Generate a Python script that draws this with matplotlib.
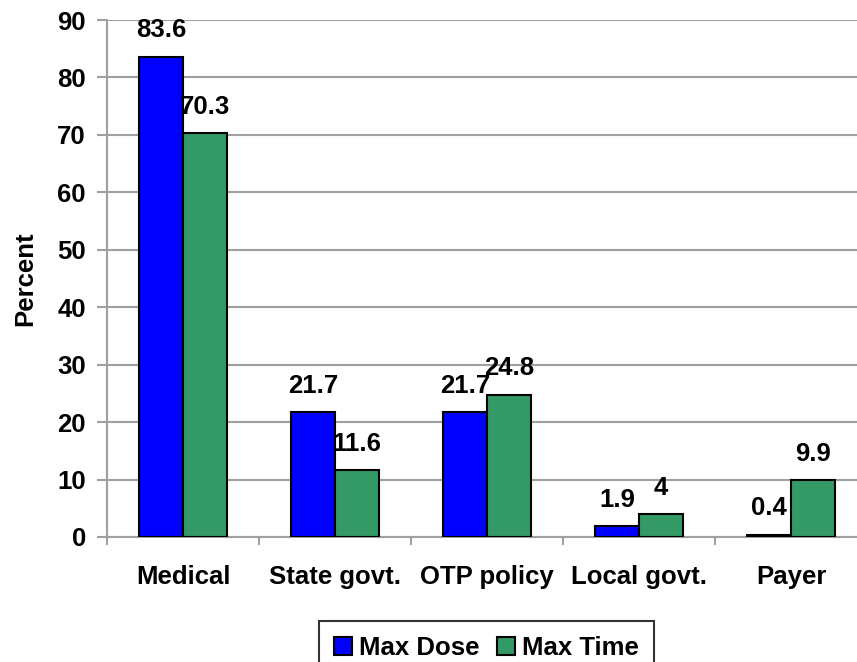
"""Bar chart: who sets max dose / max time limits (percent)."""

import matplotlib

matplotlib.use("Agg")

import matplotlib.pyplot as plt
import numpy as np

CATEGORIES = ["Medical", "State govt.", "OTP policy", "Local govt.", "Payer"]
MAX_DOSE = [83.6, 21.7, 21.7, 1.9, 0.4]
MAX_TIME = [70.3, 11.6, 24.8, 4, 9.9]
DOSE_LABELS = ["83.6", "21.7", "21.7", "1.9", "0.4"]
TIME_LABELS = ["70.3", "11.6", "24.8", "4", "9.9"]
Y_TICKS = list(range(0, 91, 10))

BLUE = "#0000FF"
GREEN = "#339966"
GREY = "#a0a0a0"
FS = 18.5

plt.rcParams["font.family"] = ["Liberation Sans", "DejaVu Sans"]
plt.rcParams["font.weight"] = "bold"

fig = plt.figure(figsize=(8.57, 6.62), dpi=100)
ax = fig.add_axes([107 / 857, 125 / 662, 760 / 857, 517 / 662])

x = np.arange(len(CATEGORIES))
width = 0.29
bars_dose = ax.bar(x - width / 2, MAX_DOSE, width, color=BLUE, edgecolor="black",
                   linewidth=1.5, label="Max Dose", zorder=3)
bars_time = ax.bar(x + width / 2, MAX_TIME, width, color=GREEN, edgecolor="black",
                   linewidth=1.5, label="Max Time", zorder=3)

for bars, labels in ((bars_dose, DOSE_LABELS), (bars_time, TIME_LABELS)):
    for bar, text in zip(bars, labels):
        ax.annotate(text, (bar.get_x() + bar.get_width() / 2, bar.get_height()),
                    xytext=(0, 14), textcoords="offset points",
                    ha="center", va="baseline", fontsize=FS, fontweight="bold")

ax.set_xlim(-0.5, len(CATEGORIES) - 0.5)
ax.set_ylim(0, 90)
ax.set_yticks(Y_TICKS)
ax.set_xticks(x)
ax.set_xticklabels(CATEGORIES)
ax.set_xticks(np.arange(len(CATEGORIES) + 1) - 0.5, minor=True)

ax.tick_params(axis="y", length=7.2, width=1.5, color=GREY, pad=8, labelsize=FS)
ax.tick_params(axis="x", which="major", length=0, pad=20, labelsize=FS)
ax.tick_params(axis="x", which="minor", length=6, width=1.5, color=GREY)

ax.grid(axis="y", color=GREY, linewidth=1.5, zorder=0)
ax.set_axisbelow(True)
for side in ("top", "right"):
    ax.spines[side].set_visible(False)
for side in ("left", "bottom"):
    ax.spines[side].set_color(GREY)
    ax.spines[side].set_linewidth(1.5)

ax.set_ylabel("Percent", fontsize=FS, fontweight="bold")
ax.yaxis.set_label_coords(-0.092, 0.5)

leg = fig.legend(handles=[bars_dose, bars_time], loc="upper center",
                 bbox_to_anchor=(486.5 / 857, 1 - 621 / 662), ncol=2,
                 fontsize=FS, frameon=True, fancybox=False, edgecolor="black",
                 handlelength=0.7, handleheight=0.7, handletextpad=0.25,
                 columnspacing=0.7, borderpad=0.6, borderaxespad=0)
leg.get_frame().set_linewidth(1.5)
for patch in leg.get_patches():
    patch.set_linewidth(1.5)

fig.savefig("out.png", dpi=100)
